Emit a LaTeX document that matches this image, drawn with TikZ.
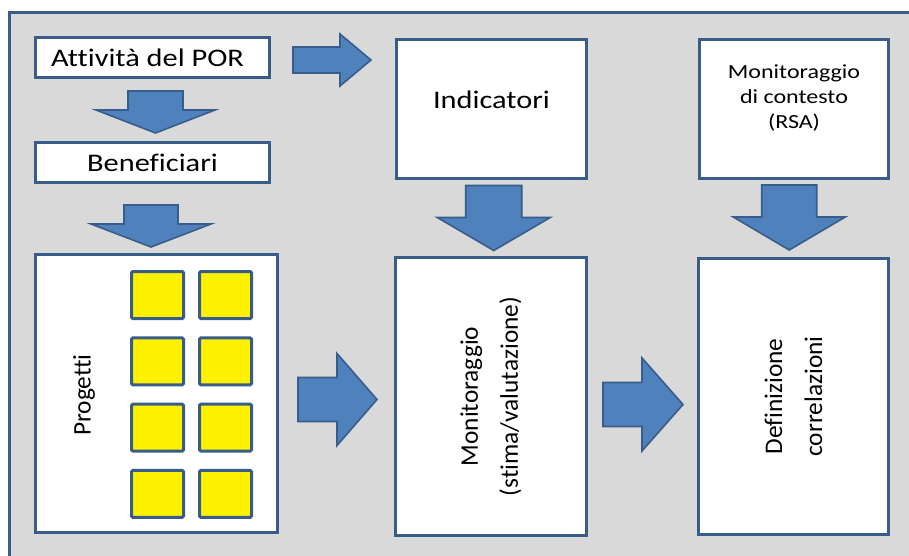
\documentclass[tikz,border=0pt]{standalone}
\usepackage{fontspec}
\setmainfont{Carlito}[Ligatures=NoCommon]
\newfontfamily\widefont[FakeStretch=1.2,Ligatures=NoCommon]{Carlito}
\usetikzlibrary{positioning,calc,fit}
\definecolor{frameblue}{RGB}{56,93,138}
\definecolor{arrowblue}{RGB}{79,129,189}
\definecolor{panelgray}{RGB}{217,217,217}

\begin{document}
\begin{tikzpicture}[x=0.75pt,y=-0.75pt,
   box/.style={draw=frameblue,line width=2.25pt,fill=white,inner sep=0pt},
   sq/.style={draw=frameblue,line width=2.25pt,fill=yellow,rounded corners=1pt,
     minimum width=39pt,minimum height=35.25pt,inner sep=0pt},
   htext/.style={font=\widefont\fontsize{19}{23}\selectfont,inner sep=0pt},
   vtext/.style={font=\fontsize{19}{30}\selectfont,rotate=90,align=center,inner sep=0pt},
   blockarr/.style={draw=frameblue,line width=1.2pt,fill=arrowblue,line join=miter},
   pics/downarr/.style args={#1/#2/#3/#4}{code={
     \draw[blockarr] (-#1/2,-#2/2) -- (#1/2,-#2/2) -- (#1/2,#2/2-#4) -- (#3,#2/2-#4)
       -- (0,#2/2) -- (-#3,#2/2-#4) -- (-#1/2,#2/2-#4) -- cycle;}},
   pics/rightarr/.style args={#1/#2/#3/#4}{code={
     \draw[blockarr] (-#2/2,-#1/2) -- (#2/2-#4,-#1/2) -- (#2/2-#4,-#3) -- (#2/2,0)
       -- (#2/2-#4,#3) -- (#2/2-#4,#1/2) -- (-#2/2,#1/2) -- cycle;}}]
  \useasboundingbox (0,0) rectangle (909,556);
  \clip (0,0) rectangle (909,556);
  % panel
  \draw[frameblue,line width=2.25pt,fill=panelgray] (9.5,12.5) rectangle (930,580);

  % left column
  \node[box,fit={(35.5,37.5) (269.5,77.5)}] (por) {};
  \node[htext] (portxt) at ($(por)+(-5,0)$) {Attività del POR};
  \node[box,fit={(35.5,142.5) (269.5,182.5)}] (benef) {};
  \node[htext] (beneftxt) at (benef) {Beneficiari};
  \node[box,fit={(35.5,254.5) (277.5,532.5)}] (prog) {};
  \node[vtext] (progtxt) at (84,395) {Progetti};
  \foreach \r in {0,...,3}
    \foreach \c in {0,1}
      \node[sq] (p\r\c) at (157.5+68*\c,295+66.3*\r) {};

  % middle and right columns
  \node[box,fit={(396.5,39.5) (586.5,178.5)}] (ind) {};
  \node[htext] (indtxt) at (491.5,100) {Indicatori};
  \node[box,fit={(699.5,39.5) (888.5,178.5)}] (rsa) {};
  \node[htext,font=\widefont\fontsize{15}{18.4}\selectfont,align=center] (rsatxt)
    at (794,98) {Monitoraggio\\di contesto\\(RSA)};
  \node[box,fit={(395.5,257.5) (586.5,535.5)}] (mon) {};
  \node[vtext] (montxt) at (mon) {Monitoraggio\\(stima/valutazione)};
  \node[box,fit={(698.5,258.5) (888.5,534.5)}] (corr) {};
  \node[vtext] (corrtxt) at (corr) {Definizione\\correlazioni};

  % block arrows
  \pic at ($(por.south)!.5!(benef.north)+(3,2)$) {downarr={55/42/59.5/23}};
  \pic at ($(benef.south)!.5!(prog.north)+(-3.5,7.5)$) {downarr={54/42/60/23}};
  \pic at ($(ind.south)!.5!(mon.north)+(2.5,0)$) {downarr={56/65/56.5/33}};
  \pic at ($(rsa.south)!.5!(corr.north)+(-4.5,-1)$) {downarr={55/65/56/33}};
  \pic at ($(por.east)!.5!(ind.west |- por.east)+(-1,2.5)$) {rightarr={26/78/26/31}};
  \pic at ($(prog.east)!.5!(mon.west)+(1,4.5)$) {rightarr={44/79/46/40}};
  \pic at ($(mon.east)!.5!(corr.west)+(0.5,8)$) {rightarr={44/80/46.5/41}};
\end{tikzpicture}
\end{document}
